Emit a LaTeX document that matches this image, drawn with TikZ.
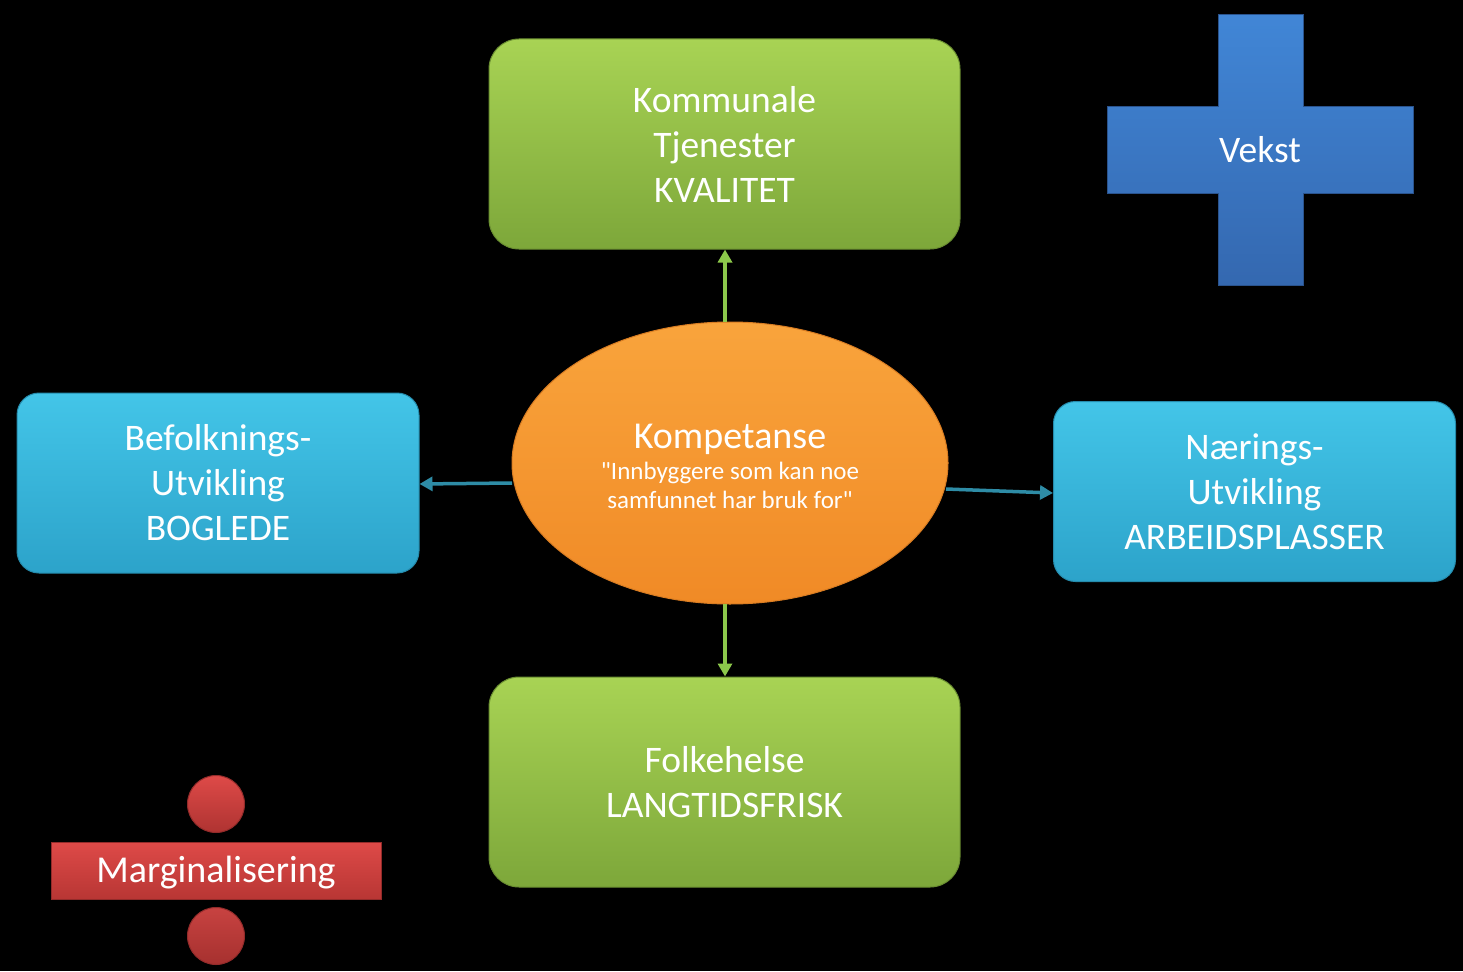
\documentclass[tikz,border=0pt]{standalone}
\usepackage{fontspec}
\setmainfont{Carlito}[Ligatures=TeXOff]
\usetikzlibrary{arrows.meta,shapes.geometric,shadows}
\definecolor{gtop}{HTML}{A8D354}
\definecolor{gbot}{HTML}{7DA73A}
\definecolor{btop}{HTML}{43C5E8}
\definecolor{bbot}{HTML}{2CA3CA}
\definecolor{otop}{HTML}{F9A43C}
\definecolor{obot}{HTML}{F08A26}
\definecolor{ctop}{HTML}{4186D6}
\definecolor{cbot}{HTML}{3468B0}
\definecolor{rtop}{HTML}{DE4A48}
\definecolor{rbot}{HTML}{B83634}
\definecolor{garrow}{HTML}{8CC84B}
\definecolor{tarrow}{HTML}{2E8CA6}
\tikzset{
  txt/.style={text=white, align=center, font=\fontsize{37.5}{45}\selectfont},
  greenbox/.style={txt, rectangle, rounded corners=30pt, top color=gtop, bottom color=gbot,
    draw=gbot!85!black, line width=1pt, minimum width=471pt, minimum height=210pt, inner sep=0pt},
  bluebox/.style={txt, rectangle, rounded corners=22pt, top color=btop, bottom color=bbot,
    draw=bbot!85!black, line width=1pt, minimum width=402pt, minimum height=180pt, inner sep=0pt},
  garr/.style={draw=garrow, line width=3.5pt, -{Triangle[width=14pt,length=13pt]}},
  tarr/.style={draw=tarrow, line width=3.5pt, -{Triangle[width=14pt,length=13pt]}},
}
\begin{document}
\begin{tikzpicture}[x=1pt,y=-1pt]
\useasboundingbox (0,0) rectangle (1463,971);
\fill[black] (0,0) rectangle (1463,971);

% boxes
\node[greenbox] (kom) at (724.5,144) {Kommunale\\Tjenester\\KVALITET};
\node[greenbox] (folk) at (724.5,782) {Folkehelse\\LANGTIDSFRISK};
\node[bluebox] (bef) at (218,483) {Befolknings-\\Utvikling\\BOGLEDE};
\node[bluebox] (naer) at (1254.5,491.5) {Nærings-\\Utvikling\\ARBEIDSPLASSER};

% ellipse
\node[ellipse, minimum width=436pt, minimum height=282pt, inner sep=0pt,
      top color=otop, bottom color=obot, draw=obot!90!black, line width=1pt,
      text=white, align=center, font=\fontsize{25}{29}\selectfont] (komp) at (730,463)
  {};
\node[text=white, align=center, font=\fontsize{25}{29}\selectfont, inner sep=0pt] (kompt) at (730,466)
  {\fontsize{38}{40}\selectfont Kompetanse\\[2pt]
   \fontsize{25}{29}\selectfont "Innbyggere som kan noe\\samfunnet har bruk for"};

% connectors
\coordinate (utop) at (725,322);
\coordinate (ubot) at (725,604);
\coordinate (lstart) at (512,483);
\coordinate (rstart) at (946,489);
\draw[garr] (utop) -- (utop |- kom.south);
\draw[garr] (ubot) -- (ubot |- folk.north);
\draw[tarr] (lstart) -- ([yshift=-1pt]bef.east);
\draw[tarr] (rstart) -- ([yshift=-1.5pt]naer.west);

% cross (Vekst)
\path[top color=ctop, bottom color=cbot, draw=cbot!80!black, line width=1pt]
  (1218,15) -- (1303,15) -- (1303,107) -- (1413,107) -- (1413,193) -- (1303,193)
  -- (1303,285) -- (1218,285) -- (1218,193) -- (1107,193) -- (1107,107) -- (1218,107) -- cycle;
\node[txt] (vekst) at (1260,150) {Vekst};

% division sign (Marginalisering)
\node[circle, minimum size=57pt, inner sep=0pt, top color=rtop, bottom color=rbot!95!black,
      draw=rbot!80!black, line width=1pt] (dot1) at (216,804) {};
\node[circle, minimum size=57pt, inner sep=0pt, top color=rtop!90!black, bottom color=rbot!90!black,
      draw=rbot!80!black, line width=1pt] (dot2) at (216,936) {};
\node[rectangle, minimum width=330pt, minimum height=57pt, inner sep=0pt,
      top color=rtop, bottom color=rbot, draw=rbot!80!black, line width=1pt,
      text=white, font=\fontsize{38}{40}\selectfont] (marg) at (216,870.5) {};
\node[text=white, font=\fontsize{38}{40}\selectfont, inner sep=0pt] (margt) at (216,873) {Marginalisering};
\end{tikzpicture}
\end{document}
